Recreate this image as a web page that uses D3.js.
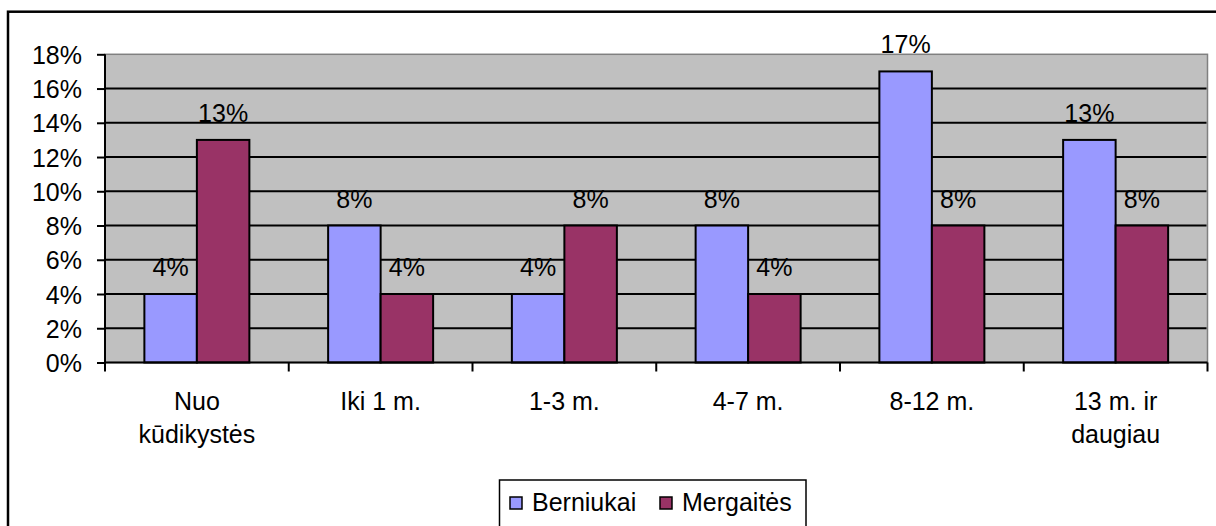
<!DOCTYPE html>
<html>
<head>
<meta charset="utf-8">
<script src="https://cdn.jsdelivr.net/npm/d3@7"></script>
<style>
  html, body { margin: 0; padding: 0; background: #fff; }
  svg { display: block; }
  text { font-family: "Liberation Sans", Arial, sans-serif; fill: #000; }
</style>
</head>
<body>
<svg id="chart" width="1216" height="526"></svg>
<script>
const categories = [["Nuo", "kūdikystės"], ["Iki 1 m."], ["1-3 m."], ["4-7 m."], ["8-12 m."], ["13 m. ir", "daugiau"]];
const seriesNames = ["Berniukai", "Mergaitės"];
const berniukai = [0.04, 0.08, 0.04, 0.08, 0.17, 0.13];
const mergaites = [0.13, 0.04, 0.08, 0.04, 0.08, 0.08];
const yTicks = [0, 0.02, 0.04, 0.06, 0.08, 0.10, 0.12, 0.14, 0.16, 0.18];
const colors = ["#9999FF", "#993366"];

(function () {
const series = [berniukai, mergaites];
const svg = d3.select("#chart");
const FS = 25;

// outer chart border (cut off at right and bottom)
svg.append("rect").attr("x", 8).attr("y", 11.7).attr("width", 1400).attr("height", 700)
  .attr("fill", "none").attr("stroke", "#000").attr("stroke-width", 2.5);

const pLeft = 105, pRight = 1207.5, pTop = 54.3, pBottom = 362.5;
const catIdx = categories.map((d, i) => i);
const x = d3.scaleBand().domain(catIdx).range([pLeft, pRight]).paddingInner(0).paddingOuter(0);
const xs = d3.scaleBand().domain(seriesNames).range([0, x.bandwidth()]).paddingInner(0).paddingOuter(0.75);
const y = d3.scaleLinear().domain([0, 0.18]).range([pBottom, pTop]);

// plot area
svg.append("rect").attr("x", pLeft).attr("y", pTop).attr("width", pRight - pLeft).attr("height", pBottom - pTop)
  .attr("fill", "#C0C0C0").attr("stroke", "#808080").attr("stroke-width", 1.5);

// gridlines
svg.append("g").selectAll("line").data(yTicks.filter(t => t > 0 && t < 0.18)).join("line")
  .attr("x1", pLeft).attr("x2", pRight - 1).attr("y1", d => y(d)).attr("y2", d => y(d))
  .attr("stroke", "#000").attr("stroke-width", 2);

// bars
series.forEach((vals, si) => {
  svg.append("g").selectAll("rect").data(vals).join("rect")
    .attr("x", (d, i) => x(i) + xs(seriesNames[si]))
    .attr("y", d => y(d))
    .attr("width", xs.bandwidth())
    .attr("height", d => y(0) - y(d))
    .attr("fill", colors[si]).attr("stroke", "#000").attr("stroke-width", 2);
  svg.append("g").selectAll("text").data(vals).join("text")
    .attr("x", (d, i) => x(i) + xs(seriesNames[si]) + xs.bandwidth() / 2)
    .attr("y", d => y(d) - 18)
    .attr("text-anchor", "middle").attr("font-size", FS)
    .text(d => d3.format(".0%")(d));
});

// y axis
const yAxis = d3.axisLeft(y).tickValues(yTicks).tickFormat(d3.format(".0%")).tickSize(8).tickPadding(15);
const gy = svg.append("g").attr("transform", `translate(${pLeft},0)`).call(yAxis);
gy.select(".domain").attr("stroke", "#000").attr("stroke-width", 2).attr("d", `M0,${pTop}V${pBottom}`);
gy.selectAll(".tick line").attr("stroke", "#000").attr("stroke-width", 2);
gy.selectAll(".tick text").attr("font-size", FS).attr("font-family", '"Liberation Sans", Arial, sans-serif')
  .attr("fill", "#000").attr("dy", "0.36em");

// x axis
const gx = svg.append("g").attr("transform", `translate(0,${pBottom})`);
gx.append("line").attr("x1", pLeft).attr("x2", pRight).attr("y1", 0).attr("y2", 0)
  .attr("stroke", "#000").attr("stroke-width", 2);
const boundaries = catIdx.map(i => x(i)).concat([x(catIdx[catIdx.length - 1]) + x.bandwidth()]);
gx.selectAll("line.tk").data(boundaries).join("line").attr("class", "tk")
  .attr("x1", d => d).attr("x2", d => d).attr("y1", 0).attr("y2", 9)
  .attr("stroke", "#000").attr("stroke-width", 2);
const labels = svg.append("g").selectAll("text").data(categories).join("text")
  .attr("text-anchor", "middle").attr("font-size", FS)
  .attr("x", (d, i) => x(i) + x.bandwidth() / 2).attr("y", 409.5);
labels.each(function(d, i) {
  const t = d3.select(this);
  d.forEach((line, li) => {
    t.append("tspan").attr("x", x(i) + x.bandwidth() / 2).attr("dy", li === 0 ? 0 : 33).text(line);
  });
});

// legend
const lg = svg.append("g");
lg.append("rect").attr("x", 499.5).attr("y", 480).attr("width", 306.5).attr("height", 60)
  .attr("fill", "#fff").attr("stroke", "#000").attr("stroke-width", 1.5);
const legX = [510, 660];
seriesNames.forEach((name, i) => {
  lg.append("rect").attr("x", legX[i]).attr("y", 497).attr("width", 12).attr("height", 12)
    .attr("fill", colors[i]).attr("stroke", "#000").attr("stroke-width", 1.5);
  lg.append("text").attr("x", legX[i] + 22).attr("y", 511).attr("font-size", FS).text(name);
});
})();
</script>
</body>
</html>
